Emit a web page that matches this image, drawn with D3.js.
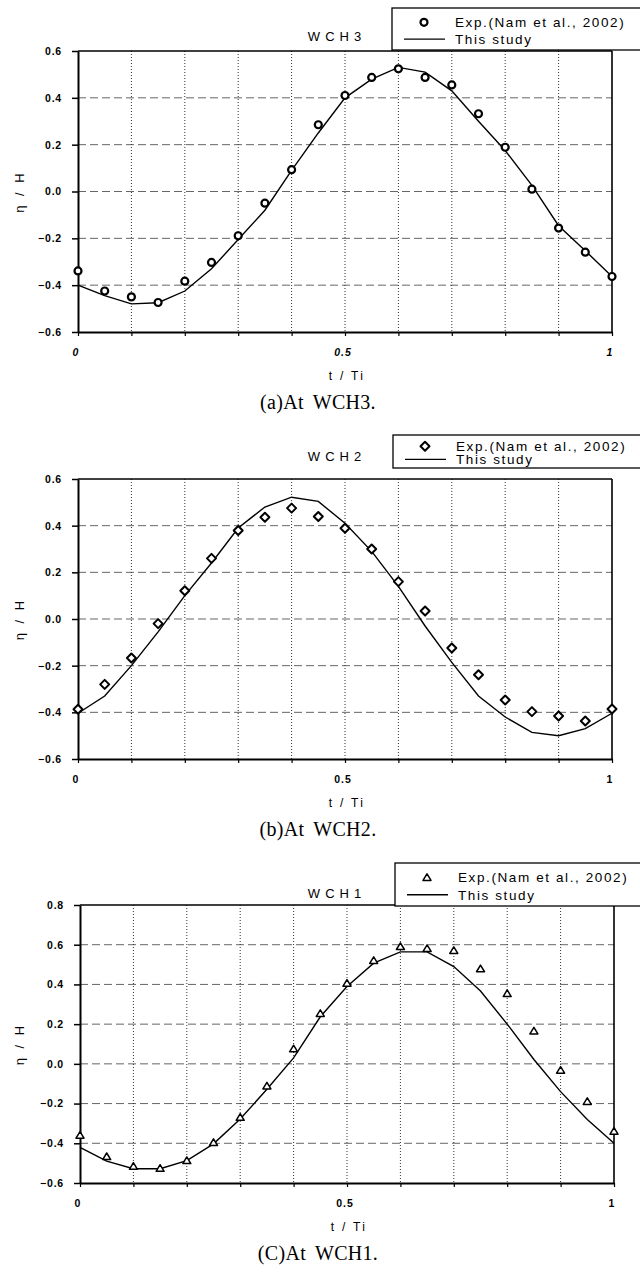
<!DOCTYPE html>
<html>
<head>
<meta charset="utf-8">
<script src="https://cdn.jsdelivr.net/npm/d3@7"></script>
<style>
body{margin:0;background:#fff}
svg{display:block}
</style>
</head>
<body>
<div id="chart"></div>
<script>
// time steps (t / Ti)
const tValues = [0,0.05,0.1,0.15,0.2,0.25,0.3,0.35,0.4,0.45,0.5,0.55,0.6,0.65,0.7,0.75,0.8,0.85,0.9,0.95,1]

// WCH3
const wch3Exp = [-0.339,-0.425,-0.45,-0.474,-0.383,-0.303,-0.189,-0.05,0.093,0.285,0.41,0.487,0.524,0.487,0.455,0.332,0.189,0.01,-0.156,-0.259,-0.363]
const wch3Model = [-0.40,-0.445,-0.48,-0.475,-0.425,-0.33,-0.205,-0.08,0.09,0.25,0.40,0.48,0.53,0.51,0.43,0.30,0.175,0.026,-0.146,-0.253,-0.363]

// WCH2
const wch2Exp = [-0.387,-0.28,-0.167,-0.02,0.121,0.26,0.379,0.436,0.475,0.439,0.389,0.30,0.16,0.034,-0.124,-0.239,-0.347,-0.397,-0.416,-0.437,-0.386]
const wch2Model = [-0.404,-0.33,-0.2,-0.055,0.10,0.24,0.39,0.48,0.522,0.504,0.41,0.29,0.14,-0.03,-0.186,-0.33,-0.42,-0.486,-0.50,-0.47,-0.404]

// WCH1
const wch1Exp = [-0.36,-0.468,-0.517,-0.527,-0.488,-0.397,-0.27,-0.112,0.075,0.253,0.405,0.52,0.59,0.58,0.57,0.478,0.353,0.165,-0.033,-0.19,-0.34]
const wch1Model = [-0.42,-0.49,-0.528,-0.528,-0.487,-0.403,-0.278,-0.128,0.03,0.237,0.39,0.507,0.564,0.564,0.49,0.367,0.2,0.022,-0.14,-0.28,-0.40]

const xTickLabels = [0,0.5,1]
const legendLabels = ["Exp.(Nam et al., 2002)","This study"]

const W = 640, H = 1276
const svg = d3.select("#chart").append("svg").attr("width",W).attr("height",H)
	.style("font-family","'Liberation Sans', Arial, sans-serif")

const panels = [
	{name:"WCH3", caption:"(a)At WCH3.", exp:wch3Exp, model:wch3Model, marker:"circle", yDomain:[-0.6,0.6], italicX:true,
		top:51, bottom:332, left:78, right:612, titleY:41, legendTop:8, legendBottom:50, legendLeft:392},
	{name:"WCH2", caption:"(b)At WCH2.", exp:wch2Exp, model:wch2Model, marker:"diamond", yDomain:[-0.6,0.6], italicX:false,
		top:479, bottom:759, left:78, right:612, titleY:461, legendTop:435, legendBottom:468, legendLeft:393},
	{name:"WCH1", caption:"(C)At WCH1.", exp:wch1Exp, model:wch1Model, marker:"triangle", yDomain:[-0.6,0.8], italicX:false,
		top:905, bottom:1183, left:80, right:614, titleY:898, legendTop:863, legendBottom:906, legendLeft:395}
]

function markerPath(type){
	if (type=="diamond") return "M0,-4.5L4.5,0L0,4.5L-4.5,0Z"
	if (type=="triangle") return "M0,-3.8L4,2.8L-4,2.8Z"
	return null
}

function drawMarker(sel,type){
	if (type=="circle"){
		sel.append("circle").attr("r",3.5).attr("fill","#fff").attr("stroke","#000").attr("stroke-width",2.2)
	} else {
		sel.append("path").attr("d",markerPath(type)).attr("fill","#fff").attr("stroke","#000")
			.attr("stroke-width",type=="diamond"?2:1.5).attr("stroke-linejoin","round")
	}
}

panels.forEach(p=>{
	const g = svg.append("g")
	const x = d3.scaleLinear().domain([0,1]).range([p.left,p.right])
	const y = d3.scaleLinear().domain(p.yDomain).range([p.bottom,p.top])
	const yTicks = d3.range(Math.round((p.yDomain[1]-p.yDomain[0])/0.2)+1).map(i=>+(p.yDomain[0]+i*0.2).toFixed(1))
	const xGrid = d3.range(1,10).map(i=>i/10)

	// grid
	g.append("g").selectAll("line").data(yTicks.slice(1,-1)).join("line")
		.attr("x1",p.left).attr("x2",p.right).attr("y1",d=>y(d)).attr("y2",d=>y(d))
		.attr("stroke","#666").attr("stroke-width",1).attr("stroke-dasharray","8,4")
	g.append("g").selectAll("line").data(xGrid).join("line")
		.attr("x1",d=>x(d)).attr("x2",d=>x(d)).attr("y1",p.top).attr("y2",p.bottom)
		.attr("stroke","#333").attr("stroke-width",1).attr("stroke-dasharray","1,2")

	// frame top and right (legend box is drawn over it later)
	g.append("line").attr("x1",p.left).attr("x2",p.right).attr("y1",p.top).attr("y2",p.top)
		.attr("stroke","#000").attr("stroke-width",1.5)
	g.append("line").attr("x1",p.right).attr("x2",p.right).attr("y1",p.top).attr("y2",p.bottom)
		.attr("stroke","#000").attr("stroke-width",1.6)

	// axes
	const yAxis = g.append("g").attr("transform","translate("+p.left+",0)")
		.call(d3.axisLeft(y).tickValues(yTicks).tickSize(6).tickSizeOuter(0).tickFormat(d3.format(".1f")))
	yAxis.select(".domain").attr("stroke-width",2)
	yAxis.selectAll(".tick line").attr("stroke-width",1.5)
	yAxis.selectAll("text").attr("font-size",10.5).attr("font-weight","bold").attr("dx",-7).attr("letter-spacing",0.8)

	const xAxis = g.append("g").attr("transform","translate(0,"+p.bottom+")")
		.call(d3.axisBottom(x).tickValues(d3.range(0,11).map(i=>i/10)).tickSize(4).tickSizeOuter(0).tickFormat(""))
	xAxis.select(".domain").attr("stroke-width",2)
	xAxis.selectAll(".tick line").attr("stroke-width",1.2)

	g.append("g").selectAll("text").data(xTickLabels).join("text")
		.attr("x",d=>x(d)-2).attr("y",p.bottom+24)
		.attr("text-anchor","middle").attr("font-size",10.5).attr("font-weight","bold")
		.attr("font-style",p.italicX?"italic":"normal").attr("letter-spacing",1)
		.text(d=>d)

	// model line
	g.append("path").datum(tValues.map((t,i)=>[t,p.model[i]]))
		.attr("d",d3.line().x(d=>x(d[0])).y(d=>y(d[1])))
		.attr("fill","none").attr("stroke","#000").attr("stroke-width",1.4)

	// experiment markers
	g.append("g").selectAll("g").data(tValues.map((t,i)=>[t,p.exp[i]])).join("g")
		.attr("transform",d=>"translate("+x(d[0])+","+y(d[1])+")")
		.each(function(){ drawMarker(d3.select(this),p.marker) })

	// titles
	g.append("text").attr("x",337).attr("y",p.titleY).attr("text-anchor","middle")
		.attr("font-size",13).attr("letter-spacing",5).text(p.name)
	g.append("text").attr("transform","translate(19,"+((p.top+p.bottom)/2)+") rotate(-90)")
		.attr("text-anchor","middle").attr("font-size",13).attr("letter-spacing",3).attr("dy","0.35em")
		.text("η / H")
	g.append("text").attr("x",x(0.5)+2).attr("y",p.bottom+48).attr("text-anchor","middle")
		.attr("font-size",12).attr("letter-spacing",2.3).text("t / Ti")
	g.append("text").attr("x",318).attr("y",p.bottom+77).attr("text-anchor","middle")
		.attr("font-family","'Liberation Serif', 'DejaVu Serif', serif").attr("font-size",20)
		.attr("letter-spacing",0.3).attr("word-spacing",4).text(p.caption)

	// legend
	const lg = g.append("g")
	lg.append("rect").attr("x",p.legendLeft).attr("y",p.legendTop).attr("width",W+2-p.legendLeft).attr("height",p.legendBottom-p.legendTop)
		.attr("fill","#fff").attr("stroke","#000").attr("stroke-width",1.3)
	const lh = p.legendBottom-p.legendTop
	const row1 = p.legendTop+lh*0.34
	const row2 = p.legendTop+lh*0.74
	drawMarker(lg.append("g").attr("transform","translate("+(p.legendLeft+32)+","+row1+")"),p.marker)
	lg.append("line").attr("x1",p.legendLeft+12).attr("x2",p.legendLeft+53).attr("y1",row2).attr("y2",row2)
		.attr("stroke","#000").attr("stroke-width",1.4)
	lg.selectAll("text").data(legendLabels).join("text")
		.attr("x",p.legendLeft+63).attr("y",(d,i)=>i==0?row1:row2).attr("dy","0.36em")
		.attr("font-size",13.5).attr("letter-spacing",1.6).text(d=>d)
})
</script>
</body>
</html>
